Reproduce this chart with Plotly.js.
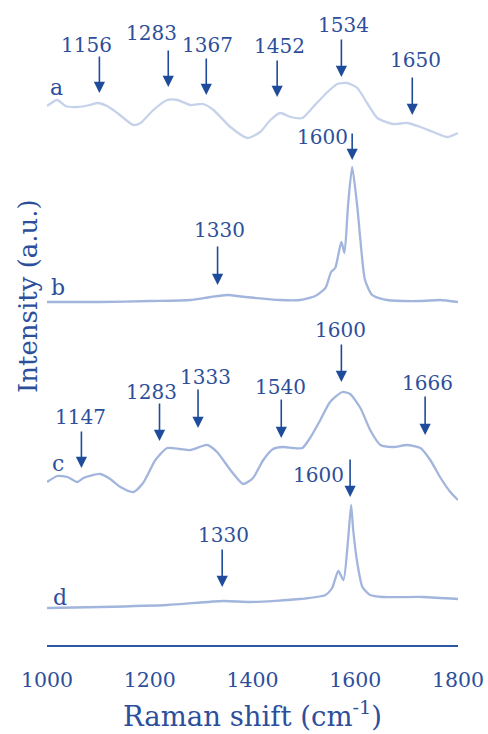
<!DOCTYPE html>
<html>
<head>
<meta charset="utf-8">
<script src="https://cdn.plot.ly/plotly-3.0.1.min.js"></script>
<style>html,body{margin:0;padding:0;background:#fff;}#chart{width:488px;height:734px;}</style>
</head>
<body>
<div id="chart"></div>
<script>
// Raman shift (cm-1) and relative intensity (a.u.) of each spectrum
var shiftA = [1000,1020,1036,1059,1084,1098,1117,1137,1168,1182,1207,1234,1254,1279,1304,1324,1357,1390,1415,1435,1454,1474,1497,1518,1546,1565,1584,1604,1623,1643,1674,1701,1727,1752,1779,1800];
var intensityA = [34,40,34,33,35,37,34,27,15,17,30,40,40,35,36,30,13,2,8,20,27,23,22,33,48,56,57,52,37,22,16,17,13,8,3,7];

var shiftB = [1000,1103,1201,1279,1318,1351,1386,1454,1493,1522,1542,1553,1561,1573,1579,1586,1594,1604,1610,1619,1633,1662,1727,1765,1800];
var intensityB = [0,0,1,2,5,7,5,2,2,6,14,30,34,60,49,97,135,95,62,22,7,2,1,2,0];

var shiftC = [1000,1020,1040,1059,1071,1104,1123,1143,1168,1187,1211,1234,1259,1279,1312,1331,1357,1382,1401,1421,1440,1460,1479,1497,1512,1532,1551,1575,1590,1610,1629,1649,1674,1701,1727,1746,1765,1785,1800];
var intensityC = [18,24,23,18,22,26,21,13,8,17,40,52,51,50,55,48,30,16,22,40,51,53,52,52,62,80,98,108,106,92,70,55,53,55,52,40,23,8,0];

var shiftD = [1000,1104,1234,1343,1396,1493,1542,1555,1567,1577,1586,1592,1596,1604,1614,1629,1654,1732,1800];
var intensityD = [2,3,5,9,8,11,15,22,39,30,70,105,80,47,23,15,13,13,11];

var seriesNames = ['a','b','c','d'];
var stackOffsets = [505, 343, 145, 35];

// Peak labels with arrow (x position in cm-1, arrow tail/head level, label level)
var peakLabels = ['1156','1283','1367','1452','1534','1650','1600','1330','1147','1283','1333','1540','1600','1666','1600','1330'];
var peakArrowX = [1102,1236,1310,1448,1573,1711,1594,1332,1067,1219,1294,1456,1573,1736,1590,1341];
var peakArrowTail = [590,596,588,586,607,569,513,400,215,243,257,247,302,250,187,97];
var peakArrowHead = [552,558,550,548,568,530,485,360,177,204,217,207,263,210,148,58];
var peakLabelX = [1076,1203,1312,1452,1577,1717,1536,1335,1065,1203,1308,1454,1571,1740,1528,1343];
var peakLabelY = [600,612,600,599,620,585,508,415,228,253,268,258,315,262,170,110];

var seriesLabelX = [1018,1022,1022,1026];
var seriesLabelY = [558,358,182,48];

var xTicks = [1000,1200,1400,1600,1800];

var textColor = '#2d4f9b';
var arrowColor = '#1f4c9a';
var lineColors = ['#c6d2ea','#a2b5dc','#a2b5dc','#a2b5dc'];
var serif = 'DejaVu Serif';

var shifts = [shiftA, shiftB, shiftC, shiftD];
var intens = [intensityA, intensityB, intensityC, intensityD];

var traces = shifts.map(function(sx, i){
  return {
    type: 'scatter', mode: 'lines', name: seriesNames[i],
    x: sx,
    y: intens[i].map(function(v){ return v + stackOffsets[i]; }),
    line: {color: lineColors[i], width: 2.3, shape: 'spline', smoothing: 0.6},
    hoverinfo: 'skip', showlegend: false
  };
});

var annotations = [];
peakLabels.forEach(function(t, i){
  annotations.push({
    x: peakArrowX[i], y: peakArrowHead[i], ax: peakArrowX[i], ay: peakArrowTail[i],
    xref: 'x', yref: 'y', axref: 'x', ayref: 'y',
    showarrow: true, arrowhead: 2, arrowsize: 1.4, arrowwidth: 1.6, arrowcolor: arrowColor, text: ''
  });
  annotations.push({
    x: peakLabelX[i], y: peakLabelY[i], xref: 'x', yref: 'y',
    text: t, showarrow: false, xanchor: 'center', yanchor: 'middle',
    font: {family: serif, size: 20, color: textColor}
  });
});
seriesNames.forEach(function(n, i){
  annotations.push({
    x: seriesLabelX[i], y: seriesLabelY[i], xref: 'x', yref: 'y',
    text: n, showarrow: false, xanchor: 'center', yanchor: 'middle',
    font: {family: serif, size: 22, color: textColor}
  });
});
annotations.push({
  x: (28 - 47) / (488 - 47 - 30), y: (645 - 296) / 640, xref: 'paper', yref: 'paper', text: 'Intensity (a.u.)',
  showarrow: false, textangle: -90, xanchor: 'center', yanchor: 'middle',
  font: {family: serif, size: 26, color: textColor}
});

var layout = {
  width: 488, height: 734,
  margin: {l: 47, r: 30, t: 5, b: 89},
  paper_bgcolor: '#ffffff', plot_bgcolor: '#ffffff',
  showlegend: false,
  font: {family: serif, color: textColor},
  xaxis: {
    range: [1000, 1800], tickvals: xTicks, ticktext: xTicks.map(String),
    showgrid: false, zeroline: false, showline: true, linecolor: '#2d56a3', linewidth: 2.3,
    ticks: '', ticklabelstandoff: 15, ticklabeloverflow: 'allow',
    tickfont: {family: serif, size: 20.5, color: textColor},
    title: {text: 'Raman shift (cm<sup>-1</sup>)', standoff: 16, font: {family: serif, size: 27.5, color: textColor}},
    automargin: false
  },
  yaxis: {
    range: [0, 640], visible: false, showgrid: false, zeroline: false
  },
  annotations: annotations
};

Plotly.newPlot('chart', traces, layout, {staticPlot: true});
</script>
</body>
</html>
